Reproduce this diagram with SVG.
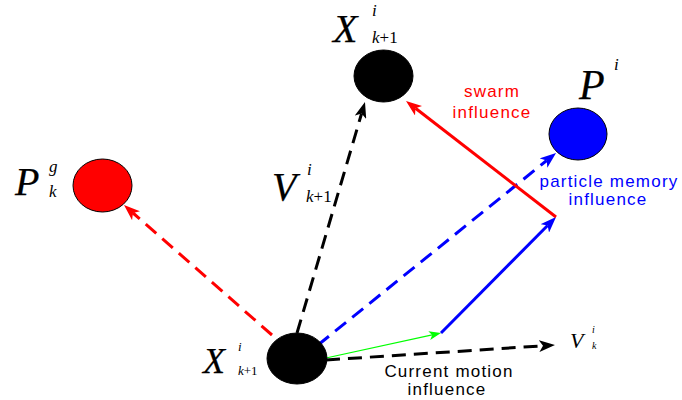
<svg xmlns="http://www.w3.org/2000/svg" width="682" height="400" viewBox="0 0 682 400">
<style>
.math{font-family:"Liberation Serif","Times New Roman",serif;font-style:italic;fill:#000}
.big{stroke:#000;stroke-width:0.25}
.up{font-style:normal}
.lbl{font-family:"Liberation Sans",Arial,sans-serif;font-size:17px;letter-spacing:1.2px;text-anchor:middle}
.node{stroke:#000;stroke-width:1}
.dash{fill:none;stroke-width:3;stroke-dasharray:14 8}
.solid{fill:none;stroke-width:3}
</style>
<defs>
<marker id="ak" markerUnits="userSpaceOnUse" markerWidth="16" markerHeight="12" viewBox="0 0 16 12" refX="4" refY="6" orient="auto"><path d="M0,0 L16,6 L0,12 L4,6 Z" fill="#000"/></marker>
<marker id="ar" markerUnits="userSpaceOnUse" markerWidth="16" markerHeight="12" viewBox="0 0 16 12" refX="4" refY="6" orient="auto"><path d="M0,0 L16,6 L0,12 L4,6 Z" fill="#f00"/></marker>
<marker id="ab" markerUnits="userSpaceOnUse" markerWidth="16" markerHeight="12" viewBox="0 0 16 12" refX="4" refY="6" orient="auto"><path d="M0,0 L16,6 L0,12 L4,6 Z" fill="#00f"/></marker>
<marker id="ag" markerUnits="userSpaceOnUse" markerWidth="12" markerHeight="9" viewBox="0 0 12 9" refX="3" refY="4.5" orient="auto"><path d="M0,0 L12,4.5 L0,9 L3,4.5 Z" fill="#0f0"/></marker>
</defs>

<g id="connectors">
<line class="dash" x1="272" y1="335" x2="133" y2="213" stroke="#f00" marker-end="url(#ar)"/>
<line class="dash" x1="297" y1="333" x2="361.6" y2="113.5" stroke="#000" marker-end="url(#ak)"/>
<line class="dash" x1="318" y1="345" x2="546.7" y2="160.5" stroke="#00f" marker-end="url(#ab)"/>
<line class="dash" x1="326" y1="360" x2="543" y2="345.8" stroke="#000" marker-end="url(#ak)"/>
<line x1="326" y1="358" x2="432.2" y2="334.9" stroke="#0f0" stroke-width="1.2" marker-end="url(#ag)"/>
<line class="solid" x1="441" y1="333" x2="547.6" y2="225.5" stroke="#00f" marker-end="url(#ab)"/>
<line class="solid" x1="556" y1="217" x2="415.5" y2="108.3" stroke="#f00" marker-end="url(#ar)"/>
</g>

<g id="node-x-next">
<ellipse class="node" cx="383.5" cy="76" rx="29.5" ry="26" fill="#000"/>
<text class="math big" x="333" y="42" font-size="40">X</text>
<text class="math" x="372" y="16" font-size="17">i</text>
<text class="math" x="372" y="43" font-size="17">k<tspan class="up">+1</tspan></text>
</g>

<g id="node-pg">
<ellipse class="node" cx="102.5" cy="185.5" rx="29.5" ry="26.5" fill="#f00"/>
<text class="math big" x="15" y="195" font-size="40">P</text>
<text class="math" x="49" y="172" font-size="17">g</text>
<text class="math" x="49" y="197" font-size="17">k</text>
</g>

<g id="node-pi">
<ellipse class="node" cx="578" cy="134" rx="29" ry="26" fill="#00f"/>
<text class="math big" x="579" y="99" font-size="42">P</text>
<text class="math" x="614" y="70" font-size="17">i</text>
</g>

<g id="node-x">
<ellipse class="node" cx="297" cy="358.5" rx="30" ry="25.5" fill="#000"/>
<text class="math big" x="203" y="373" font-size="36">X</text>
<text class="math" x="238" y="351" font-size="13">i</text>
<text class="math" x="238" y="375" font-size="13">k<tspan class="up">+1</tspan></text>
</g>

<g id="label-v-next">
<text class="math big" x="272" y="200" font-size="40">V</text>
<text class="math" x="307" y="175" font-size="17">i</text>
<text class="math" x="306" y="202" font-size="17">k<tspan class="up">+1</tspan></text>
</g>

<g id="label-v">
<text class="math" x="570" y="348" font-size="22">V</text>
<text class="math" x="592" y="333" font-size="10">i</text>
<text class="math" x="592" y="349" font-size="10">k</text>
</g>

<g id="labels">
<text class="lbl" fill="#f00" x="492" y="97">swarm</text>
<text class="lbl" fill="#f00" x="492" y="118">influence</text>
<text class="lbl" fill="#00f" x="609" y="187">particle memory</text>
<text class="lbl" fill="#00f" x="608" y="205">influence</text>
<text class="lbl" fill="#000" x="449" y="377">Current motion</text>
<text class="lbl" fill="#000" x="447" y="395">influence</text>
</g>
</svg>
